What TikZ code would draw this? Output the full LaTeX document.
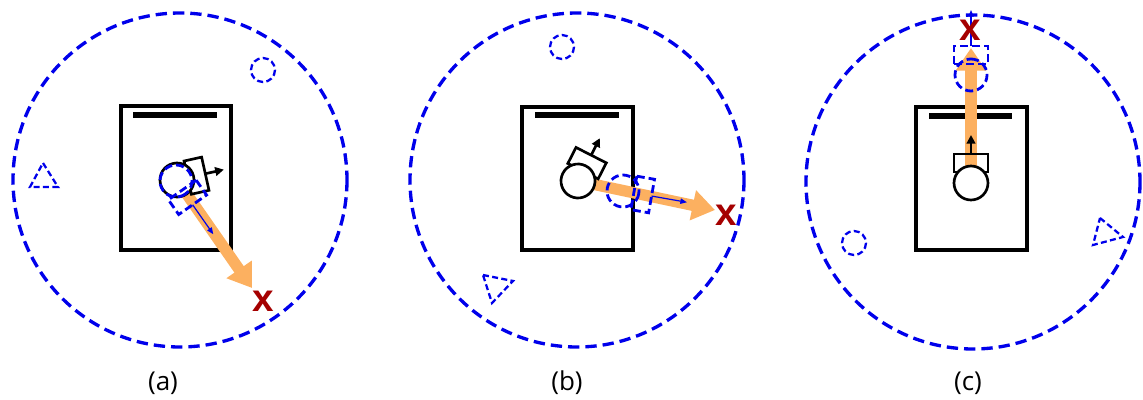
\documentclass[tikz,border=0pt]{standalone}
\usepackage{fontspec}
\setmainfont{Open Sans}
\newfontfamily\xfont{Liberation Sans}
\usetikzlibrary{arrows.meta}
\definecolor{wblue}{RGB}{0,0,235}
\definecolor{worange}{RGB}{252,176,96}
\definecolor{xred}{RGB}{165,0,0}
\begin{document}
\begin{tikzpicture}[x=0.75pt,y=-0.75pt,
  zone/.style={wblue, line width=2.5pt, dash pattern=on 8.5pt off 4.5pt},
  obst/.style={wblue, line width=1.7pt, dash pattern=on 4.5pt off 2.5pt},
  desk/.style={black, line width=2.6pt},
  shelf/.style={black, line width=4.8pt},
  motion/.style={worange, line width=8.5pt, -{Triangle[length=17pt,width=22pt]}},
  rline/.style={black, line width=2pt},
  gline/.style={wblue, line width=2.1pt, dash pattern=on 6pt off 3pt},
  xmark/.style={text=xred, inner sep=0pt, font=\xfont\fontsize{29}{29}\selectfont\bfseries},
  lab/.style={inner sep=0pt, font=\fontsize{19.5}{19.5}\selectfont},
  robot/.pic={
    \draw[rline] (11,-17) rectangle (29,17);
    \draw[rline, fill=white] (0,0) circle[radius=17];
    \draw[rline, -{Triangle[length=6.5pt,width=6.5pt]}] (29,0) -- (48,0);
  },
  ghost/.pic={
    \draw[gline] (11,-17) rectangle (29,17);
    \draw[gline] (0,0) circle[radius=16];
    \draw[wblue, line width=0.9pt, -{Triangle[length=5pt,width=4pt]}] (29,0) -- (65,0);
  }
]
\useasboundingbox (0,0) rectangle (1143,400);

% ---------- panel (a) ----------
\draw[zone] (180,180) circle[radius=167];
\draw[desk] (121,106) rectangle (231,250);
\draw[shelf] (133,115) -- (217,115);
\draw[obst] (263,70) circle[radius=12];
\draw[obst] (43,163) -- (58,187) -- (30,187) -- cycle;
\coordinate (ra) at (177,180);
\coordinate (ta) at (252,288);
\draw[motion] (ra) -- (ta);
\pic[rotate=12.5] at (ra) {robot};
\coordinate (ga) at (176,181);
\pic[rotate=-55] at (ga) {ghost};
\node[xmark] (xa) at (263,301) {x};
\node[lab] (la) at (163,383) {(a)};

% ---------- panel (b) ----------
\draw[zone] (577,180) circle[radius=167];
\draw[desk] (522,107) rectangle (633,250);
\draw[shelf] (535,115) -- (619,115);
\draw[obst] (562,47) circle[radius=12];
\draw[obst] (483,275) -- (513,281) -- (492,303) -- cycle;
\coordinate (rb) at (578,181);
\coordinate (tb) at (715,210);
\draw[motion] (rb) -- (tb);
\pic[rotate=63] at (rb) {robot};
\coordinate (gb) at (623,191);
\pic[rotate=-10] at (gb) {ghost};
\node[xmark] (xb) at (726,215) {x};
\node[lab] (lb) at (567,383) {(b)};

% ---------- panel (c) ----------
\draw[zone] (973,182) circle[radius=167];
\draw[desk] (916,107) rectangle (1027,250);
\draw[shelf] (929,116) -- (1012,116);
\draw[obst] (854,243) circle[radius=12];
\draw[obst] (1100,218) -- (1123,237) -- (1093,245) -- cycle;
\coordinate (rc) at (971,183);
\coordinate (tc) at (971,48);
\draw[motion] (rc) -- (tc);
\pic[rotate=90] at (rc) {robot};
\coordinate (gc) at (971,75);
\pic[rotate=90] at (gc) {ghost};
\node[xmark] (xc) at (970,30) {x};
\node[lab] (lc) at (968,383) {(c)};
\end{tikzpicture}
\end{document}
